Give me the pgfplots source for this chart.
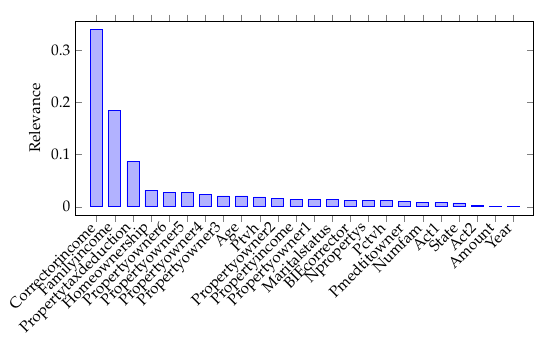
\documentclass[border=0pt]{standalone}
\usepackage[T1]{fontenc}
\usepackage{mathpazo}
\usepackage{pgfplots}
\pgfplotsset{compat=1.18}

\begin{document}
\begin{tikzpicture}
\begin{axis}[
  scale only axis,
  width=297pt, height=126pt,
  ybar, bar width=7.8pt,
  xmin=-1.15, xmax=24.1,
  ymin=-0.016, ymax=0.355,
  ytick={0,0.1,0.2,0.3},
  xtick=data,
  xticklabels={Correctorincome,Familyincome,Propertytaxdeduction,Homeownership,
    Propertyowner6,Propertyowner5,Propertyowner4,Propertyowner3,Age,Ptvh,
    Propertyowner2,Propertyincome,Propertyowner1,Maritalstatus,BIEcorrector,
    Npropertys,Pctvh,Pmedtitowner,Numfam,Act1,State,Act2,Amount,Year},
  x tick label style={rotate=45, anchor=east},
  xtick align=outside,
  ylabel={Relevance},
]
  % relevance per feature
  \addplot coordinates {
    (0,0.339)(1,0.184)(2,0.0866)(3,0.0318)(4,0.0275)(5,0.0268)
    (6,0.0237)(7,0.021)(8,0.021)(9,0.019)(10,0.0166)(11,0.0141)
    (12,0.0135)(13,0.0135)(14,0.0124)(15,0.0122)(16,0.0122)(17,0.0103)
    (18,0.009)(19,0.0083)(20,0.0076)(21,0.002)(22,0.0015)(23,0.0015)
  };
\end{axis}
% margins as in the reference
\path (current axis.south west) ++(-49.2pt,-85.2pt);
\path (current axis.north east) ++(10.9pt,13.7pt);
\end{tikzpicture}
\end{document}
